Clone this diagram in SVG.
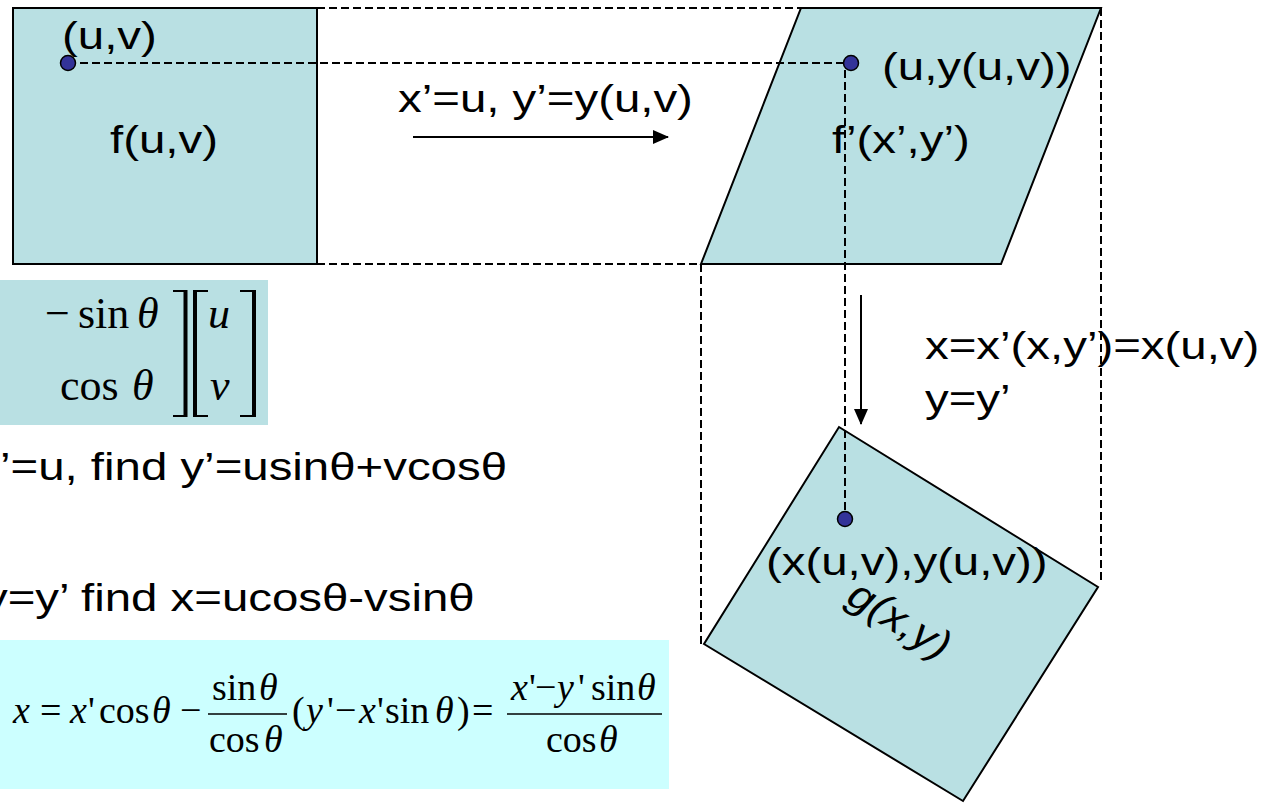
<svg xmlns="http://www.w3.org/2000/svg" width="1282" height="803" viewBox="0 0 1282 803">
<style>
.shape{fill:#B9E0E3;stroke:#000;stroke-width:2}
.dash{fill:none;stroke:#000;stroke-width:2;stroke-dasharray:8 4}
.solid{fill:none;stroke:#000;stroke-width:2}
.dot{fill:#333399;stroke:#000;stroke-width:1.5}
.lbl{font-family:"Liberation Sans",Arial,sans-serif;font-size:39.5px;fill:#000}
.math{font-family:"Liberation Serif","Times New Roman",serif;font-size:38px;fill:#000}
.mx{font-family:"Liberation Serif","Times New Roman",serif;font-size:44px;fill:#000}
.it{font-style:italic}
</style>
<defs>
<marker id="ah" markerWidth="16" markerHeight="14" refX="15" refY="7" orient="auto" markerUnits="userSpaceOnUse">
<path d="M0,0 L16,7 L0,14 Z" fill="#000"/>
</marker>
</defs>
<rect width="1282" height="803" fill="#fff"/>

<g id="node-square">
<rect class="shape" x="13" y="8" width="304" height="256"/>
<text class="lbl" transform="translate(110,153) scale(1.2,1)">f(u,v)</text>
</g>

<g id="node-parallelogram">
<polygon class="shape" points="801,8 1101,8 1001,264 701,264"/>
<text class="lbl" transform="translate(832,153) scale(1.2,1)">f’(x’,y’)</text>
</g>

<g id="node-rotated">
<polygon class="shape" points="839,427 1098,587 963,801 704,644"/>
<text class="lbl" transform="translate(843,601) scale(1.2,1) rotate(36.5)">g(x,y)</text>
</g>

<g id="node-matrix">
<rect x="0" y="280" width="268" height="145" fill="#B9E0E3"/>
<text class="mx"><tspan x="45" y="328">−</tspan><tspan x="78" y="328">sin</tspan><tspan class="it" x="137" y="328">θ</tspan></text>
<text class="mx"><tspan x="60" y="400">cos</tspan><tspan class="it" x="132" y="400">θ</tspan></text>
<text class="mx it"><tspan x="208" y="328">u</tspan><tspan x="210" y="400">v</tspan></text>
<g fill="#000">
<rect x="183.5" y="290" width="4" height="127"/>
<rect x="173" y="290" width="12" height="2"/>
<rect x="173" y="415" width="12" height="2"/>
<rect x="193" y="290" width="4" height="127"/>
<rect x="195" y="290" width="13" height="2"/>
<rect x="195" y="415" width="13" height="2"/>
<rect x="252" y="290" width="4" height="127"/>
<rect x="240" y="290" width="13" height="2"/>
<rect x="240" y="415" width="13" height="2"/>
</g>
</g>

<g id="node-formula">
<rect x="0" y="640" width="669" height="149" fill="#CCFFFF"/>
<text class="math"><tspan class="it" x="13" y="723">x</tspan><tspan x="40" y="723">=</tspan><tspan class="it" x="70" y="723">x</tspan><tspan x="88" y="723">'</tspan><tspan x="99" y="723">cos</tspan><tspan class="it" x="152" y="723">θ</tspan><tspan x="180" y="723">−</tspan></text>
<text class="math"><tspan x="212" y="700">sin</tspan><tspan class="it" x="259" y="700">θ</tspan></text>
<text class="math"><tspan x="209" y="752">cos</tspan><tspan class="it" x="264" y="752">θ</tspan></text>
<line x1="208" y1="714" x2="287" y2="714" stroke="#000" stroke-width="1.5"/>
<text class="math"><tspan x="292" y="723">(</tspan><tspan class="it" x="306" y="723">y</tspan><tspan x="327" y="723">'</tspan><tspan x="335" y="723">−</tspan><tspan class="it" x="359" y="723">x</tspan><tspan x="377" y="723">'</tspan><tspan x="385" y="723">sin</tspan><tspan class="it" x="435" y="723">θ</tspan><tspan x="457" y="723">)</tspan><tspan x="472" y="723">=</tspan></text>
<text class="math"><tspan class="it" x="511" y="700">x</tspan><tspan x="529" y="700">'</tspan><tspan x="535" y="700">−</tspan><tspan class="it" x="557" y="700">y</tspan><tspan x="578" y="700">'</tspan><tspan x="591" y="700">sin</tspan><tspan class="it" x="637" y="700">θ</tspan></text>
<line x1="507" y1="714" x2="662" y2="714" stroke="#000" stroke-width="1.5"/>
<text class="math"><tspan x="546" y="752">cos</tspan><tspan class="it" x="599" y="752">θ</tspan></text>
</g>

<g id="connectors">
<line class="dash" x1="317" y1="8" x2="801" y2="8"/>
<line class="dash" x1="317" y1="264" x2="701" y2="264"/>
<line class="dash" x1="1101" y1="8" x2="1101" y2="584"/>
<line class="dash" x1="701" y1="264" x2="701" y2="646"/>
<line class="dash" x1="68" y1="63" x2="843" y2="63"/>
<line class="dash" x1="845" y1="70" x2="845" y2="512"/>
<line class="solid" x1="413" y1="137" x2="668" y2="137" marker-end="url(#ah)"/>
<line class="solid" x1="861" y1="295" x2="861" y2="424" marker-end="url(#ah)"/>
</g>

<g id="points">
<circle class="dot" cx="68" cy="63" r="7.5"/>
<circle class="dot" cx="851" cy="63" r="7.5"/>
<circle class="dot" cx="845" cy="519" r="7.5"/>
</g>

<g id="labels">
<text class="lbl" transform="translate(62,49) scale(1.2,1)">(u,v)</text>
<text class="lbl" transform="translate(398,112) scale(1.2,1)">x’=u, y’=y(u,v)</text>
<text class="lbl" transform="translate(882,80) scale(1.2,1)">(u,y(u,v))</text>
<text class="lbl" transform="translate(925,359) scale(1.2,1)">x=x’(x,y’)=x(u,v)</text>
<text class="lbl" transform="translate(925,412) scale(1.2,1)">y=y’</text>
<text class="lbl" transform="translate(0,480) scale(1.2,1)">’=u, find y’=usinθ+vcosθ</text>
<text class="lbl" transform="translate(-16,611) scale(1.2,1)">y=y’ find x=ucosθ-vsinθ</text>
<text class="lbl" transform="translate(766,575) scale(1.2,1)">(x(u,v),y(u,v))</text>
</g>
</svg>
